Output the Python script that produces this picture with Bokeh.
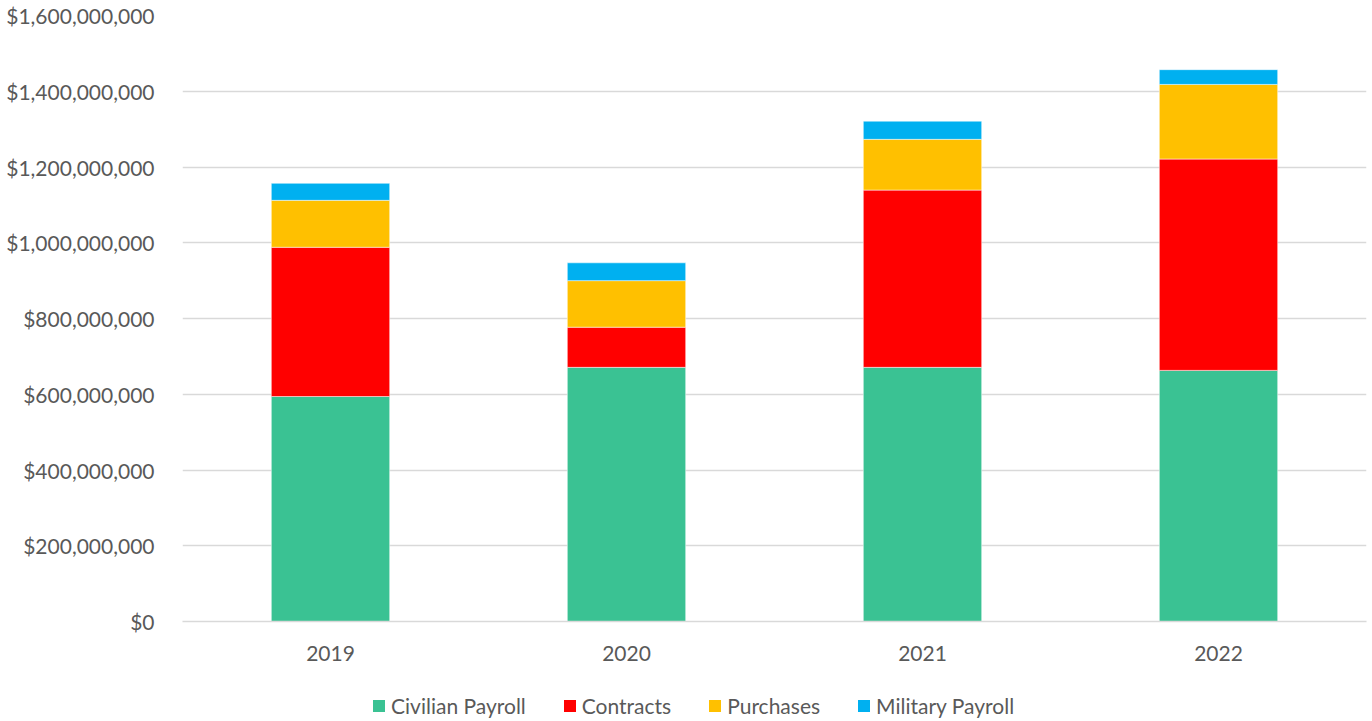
from bokeh.plotting import figure
from bokeh.layouts import column
from bokeh.models import NumeralTickFormatter, Legend, LegendItem, FixedTicker, Range1d
from bokeh.embed import file_html
from bokeh.resources import INLINE

years = ["2019", "2020", "2021", "2022"]
series = ["Civilian Payroll", "Contracts", "Purchases", "Military Payroll"]
civilian = [594e6, 671e6, 671e6, 663e6]
contracts = [394e6, 106e6, 468e6, 558e6]
purchases = [124e6, 123e6, 134e6, 197e6]
military = [45e6, 47e6, 48e6, 39e6]
colors = ["#3AC293", "#FF0000", "#FFC000", "#00B0F0"]
y_ticks = [0, 200e6, 400e6, 600e6, 800e6, 1000e6, 1200e6, 1400e6, 1600e6]

data = {"year": years, "Civilian Payroll": civilian, "Contracts": contracts,
        "Purchases": purchases, "Military Payroll": military}

FONT = "Lato"
TXT = "#595959"
FS = "21px"

p = figure(x_range=years, y_range=Range1d(0, 1.6e9), output_backend="svg",
           toolbar_location=None, frame_width=1184, frame_height=606,
           min_border_left=182, min_border_top=15, min_border_right=6,
           min_border_bottom=44)

renderers = p.vbar_stack(series, x="year", width=0.4, color=colors, source=data,
                         line_color="white", line_alpha=0.5, line_width=1)

p.outline_line_color = None
p.xgrid.grid_line_color = None
p.ygrid.grid_line_color = "#D9D9D9"
p.ygrid.grid_line_width = 1.3
p.yaxis.ticker = FixedTicker(ticks=y_ticks)
p.yaxis.formatter = NumeralTickFormatter(format="$0,0")
p.yaxis.axis_line_color = None
p.yaxis.major_tick_line_color = None
p.yaxis.minor_tick_line_color = None
p.yaxis.major_label_standoff = 22
p.yaxis.major_label_text_font = FONT
p.yaxis.major_label_text_font_size = FS
p.yaxis.major_label_text_color = TXT

p.xaxis.axis_line_color = "#D9D9D9"
p.xaxis.axis_line_width = 1.3
p.xaxis.major_tick_line_color = None
p.xaxis.minor_tick_line_color = None
p.xaxis.major_label_standoff = 18
p.xaxis.major_label_text_font = FONT
p.xaxis.major_label_text_font_size = FS
p.xaxis.major_label_text_color = TXT

# Legend strip below the chart (proxy glyphs lie outside the visible range)
lp = figure(x_range=Range1d(0, 1), y_range=Range1d(0, 1), output_backend="svg",
            toolbar_location=None, frame_width=1372, frame_height=56,
            min_border=0)
lp.axis.visible = False
lp.grid.visible = False
lp.outline_line_color = None
legend_renderers = [lp.vbar(x=[10], top=[10], bottom=[9], width=0.1,
                            fill_color=c, line_color=None) for c in colors]
items = [LegendItem(label=s, renderers=[r]) for s, r in zip(series, legend_renderers)]
legend = Legend(items=items, orientation="horizontal", location=(371, 3),
                label_text_font=FONT, label_text_font_size=FS,
                label_text_color=TXT, glyph_width=15, glyph_height=15,
                label_standoff=5, spacing=36, border_line_color=None,
                background_fill_alpha=0, margin=0, padding=0)
lp.add_layout(legend, "center")

layout = column(p, lp, spacing=0)
open("out.html", "w").write(file_html(layout, INLINE))
